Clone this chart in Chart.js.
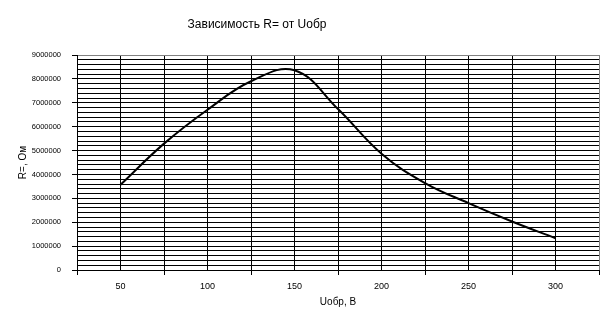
<!DOCTYPE html>
<html>
<head>
<meta charset="utf-8">
<script src="https://cdn.jsdelivr.net/npm/chart.js@4/dist/chart.umd.min.js"></script>
<style>
  body { margin: 0; background: #fff; }
  #wrap { width: 610px; height: 324px; position: relative; }
</style>
</head>
<body>
<div id="wrap"><canvas id="myChart"></canvas></div>
<script>
// Uобр, В
const uValues = [50, 75, 100, 125, 150, 175, 200, 225, 250, 275, 300];
// R=, Ом
const rValues = [3570000, 5290000, 6710000, 7900000, 8360000, 6740000, 4870000, 3640000, 2800000, 2030000, 1330000];

const titleText = 'Зависимость R= от Uобр';
const xTitle = 'Uобр, В';
const yTitle = 'R=, Ом';

const fontFamily = '"Liberation Sans", Arial, sans-serif';

// chart title sits a bit left of the plot centre
const titlePlugin = {
  id: 'fixedTitle',
  afterDraw(chart) {
    const ctx = chart.ctx;
    ctx.save();
    ctx.font = '12px ' + fontFamily;
    ctx.fillStyle = '#000';
    ctx.textAlign = 'center';
    ctx.textBaseline = 'middle';
    ctx.fillText(titleText, 257, 25);
    ctx.restore();
  }
};

const ctx = document.getElementById('myChart').getContext('2d');
new Chart(ctx, {
  type: 'line',
  data: {
    datasets: [{
      data: uValues.map((u, i) => ({ x: u, y: rValues[i] })),
      borderColor: '#000',
      borderWidth: 2,
      pointRadius: 0,
      tension: 0.4,
      fill: false
    }]
  },
  options: {
    responsive: true,
    maintainAspectRatio: false,
    animation: false,
    layout: { padding: { top: 55, right: 11, left: 0, bottom: 0 } },
    plugins: {
      legend: { display: false },
      tooltip: { enabled: false }
    },
    scales: {
      x: {
        type: 'linear',
        min: 25,
        max: 325,
        afterFit: (scale) => { scale.height = 54; },
        ticks: {
          stepSize: 25,
          autoSkip: false,
          maxRotation: 0,
          padding: 6,
          color: '#000',
          font: { family: fontFamily, size: 9 },
          callback: (v) => (v % 50 === 0 && v > 25 && v < 325) ? String(v) : ''
        },
        grid: {
          color: (c) => (c.tick && c.tick.value === 325) ? '#808080' : '#000',
          lineWidth: 1,
          tickLength: 5,
          tickColor: (c) => (c.tick && c.tick.value % 50 !== 0) ? '#000' : 'rgba(0,0,0,0)'
        },
        border: { color: '#000', width: 1 },
        title: {
          display: true,
          text: xTitle,
          color: '#000',
          font: { family: fontFamily, size: 10 },
          padding: { top: 0, bottom: 16 }
        }
      },
      y: {
        min: 0,
        max: 9000000,
        afterFit: (scale) => { scale.width = 77; },
        ticks: {
          stepSize: 200000,
          autoSkip: false,
          padding: 11,
          color: '#000',
          font: { family: fontFamily, size: 7.5 },
          callback: (v) => v % 1000000 === 0 ? String(v) : ''
        },
        grid: {
          color: (c) => (c.tick && c.tick.value === 9000000) ? '#808080' : '#000',
          lineWidth: 1,
          tickLength: 5,
          tickColor: (c) => (c.tick && c.tick.value % 1000000 === 0) ? '#000' : 'rgba(0,0,0,0)'
        },
        border: { color: '#000', width: 1 },
        title: {
          display: true,
          text: yTitle,
          color: '#000',
          font: { family: fontFamily, size: 10 },
          padding: { top: 17, bottom: 0 }
        }
      }
    }
  },
  plugins: [titlePlugin]
});
</script>
</body>
</html>
